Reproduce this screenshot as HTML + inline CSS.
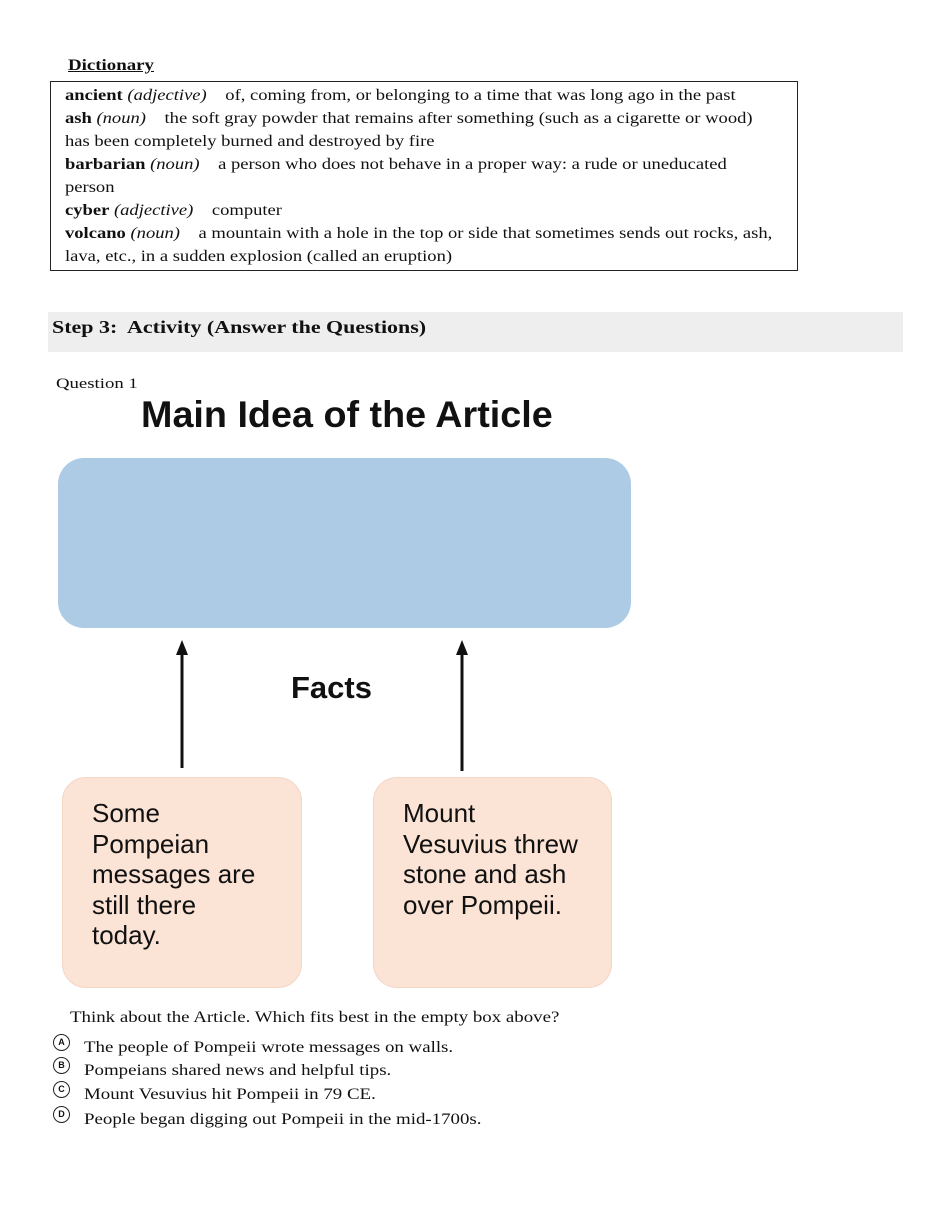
<!DOCTYPE html>
<html><head><style>
body{margin:0;width:952px;height:1209px;background:#fff;position:relative;overflow:hidden;font-family:"Liberation Serif",serif;color:#111}
.a{position:absolute;white-space:nowrap}
.x{transform:scaleX(1.18);transform-origin:0 0}
.d{font-size:16px;line-height:23px}
.box{position:absolute;border:1.5px solid #222}
.s{font-family:"Liberation Sans",sans-serif}
.pk{position:absolute;background:#fbe3d6;border:1px solid #f3d6c6;border-radius:24px;font-family:"Liberation Sans",sans-serif;font-size:26px;line-height:30.5px;padding:20px 0 0 29px;box-sizing:border-box;color:#111}
.c{display:inline-block;width:15px;height:15px;border:1px solid #222;border-radius:50%;font-size:9px;line-height:15px;text-align:center;font-family:"Liberation Sans",sans-serif;font-weight:bold;position:absolute;left:53px}
</style></head><body>
<div class="a x" style="left:68px;top:57px;font-size:16px;font-weight:bold;text-decoration:underline">Dictionary</div>
<div class="box" style="left:50px;top:81px;width:746px;height:188px"></div>
<div class="a d" style="left:65px;top:84px;transform:scaleX(1.16);transform-origin:0 0">
<b>ancient</b> <i>(adjective)</i> &nbsp;&nbsp; of, coming from, or belonging to a time that was long ago in the past<br>
<b>ash</b> <i>(noun)</i> &nbsp;&nbsp; the soft gray powder that remains after something (such as a cigarette or wood)<br>
has been completely burned and destroyed by fire<br>
<b>barbarian</b> <i>(noun)</i> &nbsp;&nbsp; a person who does not behave in a proper way: a rude or uneducated<br>
person<br>
<b>cyber</b> <i>(adjective)</i> &nbsp;&nbsp; computer<br>
<b>volcano</b> <i>(noun)</i> &nbsp;&nbsp; a mountain with a hole in the top or side that sometimes sends out rocks, ash,<br>
lava, etc., in a sudden explosion (called an eruption)</div>
<div class="a" style="left:48px;top:312px;width:855px;height:40px;background:#eeeeee"></div>
<div class="a" style="left:52px;top:315px;font-size:18px;font-weight:bold;line-height:24px;transform:scaleX(1.22);transform-origin:0 0">Step 3:&nbsp; Activity (Answer the Questions)</div>
<div class="a" style="left:56px;top:376px;font-size:15px;transform:scaleX(1.25);transform-origin:0 0">Question 1</div>
<div class="a s" style="left:141px;top:394px;font-size:37px;font-weight:bold;transform:scaleX(1.02);transform-origin:0 0">Main Idea of the Article</div>
<div class="a" style="left:58px;top:458px;width:573px;height:170px;background:#adcbe4;border-radius:26px"></div>
<svg class="a" style="left:0;top:0" width="952" height="1209">
<line x1="182" y1="768" x2="182" y2="652" stroke="#111" stroke-width="3"/>
<polygon points="182,640 176,655 188,655" fill="#111"/>
<line x1="462" y1="771" x2="462" y2="652" stroke="#111" stroke-width="3"/>
<polygon points="462,640 456,655 468,655" fill="#111"/>
</svg>
<div class="a s" style="left:291px;top:670px;font-size:31px;font-weight:bold">Facts</div>
<div class="pk" style="left:62px;top:777px;width:240px;height:211px">Some<br>Pompeian<br>messages are<br>still there<br>today.</div>
<div class="pk" style="left:373px;top:777px;width:239px;height:211px">Mount<br>Vesuvius threw<br>stone and ash<br>over Pompeii.</div>
<div class="a x" style="left:70px;top:1009px;font-size:16px">Think about the Article. Which fits best in the empty box above?</div>
<div class="c" style="top:1034px">A</div><div class="a x" style="left:84px;top:1039px;font-size:16px">The people of Pompeii wrote messages on walls.</div>
<div class="c" style="top:1057px">B</div><div class="a x" style="left:84px;top:1062px;font-size:16px">Pompeians shared news and helpful tips.</div>
<div class="c" style="top:1081px">C</div><div class="a x" style="left:84px;top:1086px;font-size:16px">Mount Vesuvius hit Pompeii in 79 CE.</div>
<div class="c" style="top:1106px">D</div><div class="a x" style="left:84px;top:1111px;font-size:16px">People began digging out Pompeii in the mid-1700s.</div>
</body></html>
